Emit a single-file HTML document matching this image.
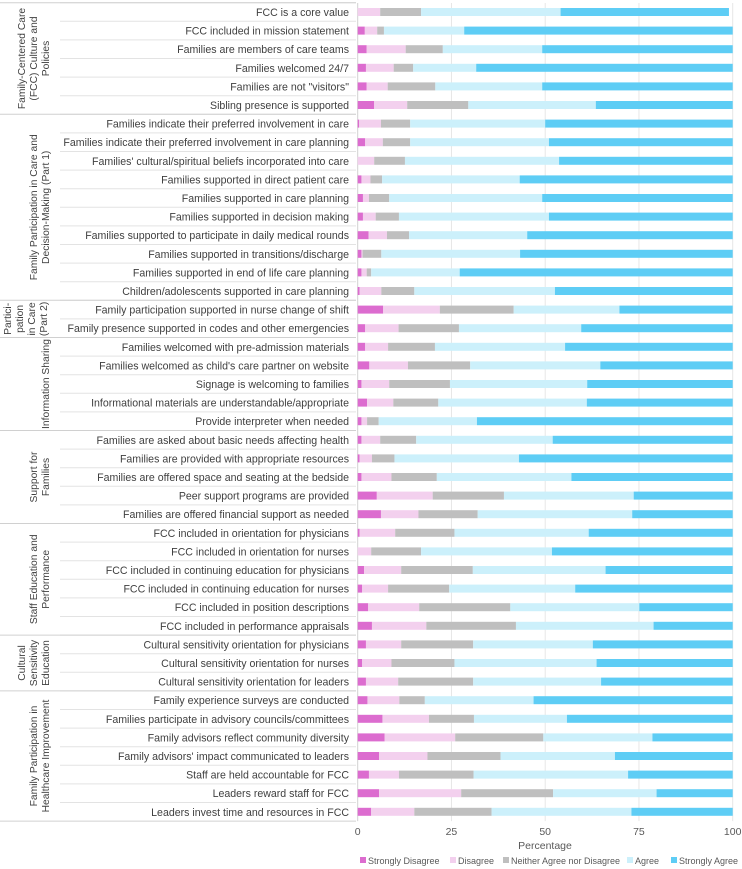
<!DOCTYPE html>
<html><head><meta charset="utf-8"><style>
html,body{margin:0;padding:0;background:#fff}
svg{display:block;font-family:"Liberation Sans",sans-serif}
</style></head><body>
<svg id="chart" width="742" height="869"></svg>
<script>
const categories=["FCC is a core value","FCC included in mission statement","Families are members of care teams","Families welcomed 24/7","Families are not \"visitors\"","Sibling presence is supported","Families indicate their preferred involvement in care","Families indicate their preferred involvement in care planning","Families' cultural/spiritual beliefs incorporated into care","Families supported in direct patient care","Families supported in care planning","Families supported in decision making","Families supported to participate in daily medical rounds","Families supported in transitions/discharge","Families supported in end of life care planning","Children/adolescents supported in care planning","Family participation supported in nurse change of shift","Family presence supported in codes and other emergencies","Families welcomed with pre-admission materials","Families welcomed as child's care partner on website","Signage is welcoming to families","Informational materials are understandable/appropriate","Provide interpreter when needed","Families are asked about basic needs affecting health","Families are provided with appropriate resources","Families are offered space and seating at the bedside","Peer support programs are provided","Families are offered financial support as needed","FCC included in orientation for physicians","FCC included in orientation for nurses","FCC included in continuing education for physicians","FCC included in continuing education for nurses","FCC included in position descriptions","FCC included in performance appraisals","Cultural sensitivity orientation for physicians","Cultural sensitivity orientation for nurses","Cultural sensitivity orientation for leaders","Family experience surveys are conducted","Families participate in advisory councils/committees","Family advisors reflect community diversity","Family advisors' impact communicated to leaders","Staff are held accountable for FCC","Leaders reward staff for FCC","Leaders invest time and resources in FCC"];
const stronglyDisagree=[0,1.9,2.4,2.2,2.4,4.4,0.4,2.0,0,1.0,1.4,1.4,2.9,1.0,1.0,0.5,6.8,2.0,2.0,3.1,1.0,2.5,1.0,1.0,0.5,1.0,5.1,6.2,0.5,0,1.7,1.2,2.8,3.8,2.2,1.2,2.2,2.6,6.6,7.2,5.7,3.0,5.7,3.6];
const disagree=[6.0,3.3,10.4,7.4,5.6,8.8,5.8,4.7,4.4,2.4,1.6,3.4,4.9,0.3,1.4,5.8,15.1,8.9,6.1,10.3,7.4,7.0,1.5,5.0,3.3,8.0,14.9,10.0,9.5,3.6,9.9,6.9,13.6,14.5,9.4,7.8,8.6,8.5,12.4,18.8,12.9,8.0,21.9,11.5];
const neither=[10.9,1.8,9.9,5.2,12.7,16.3,7.8,7.3,8.2,3.1,5.4,6.2,5.9,5.0,1.2,8.8,19.7,16.1,12.5,16.6,16.2,12.0,3.1,9.6,6.0,12.1,19.0,15.8,15.8,13.3,19.1,16.3,24.3,23.9,19.2,16.8,20.0,6.8,12.0,23.5,19.5,19.9,24.5,20.6];
const agree=[37.2,21.4,26.5,16.8,28.5,34.0,36.0,37.0,41.1,36.7,40.8,40.0,31.5,37.0,23.6,37.5,28.2,32.6,34.7,34.7,36.6,39.6,26.2,36.4,33.2,35.9,34.6,41.2,35.8,34.9,35.4,33.6,34.4,36.7,31.9,37.9,34.1,29.0,24.8,29.1,30.5,41.2,27.6,37.3];
const stronglyAgree=[44.9,71.6,50.8,68.4,50.8,36.5,50.0,49.0,46.3,56.8,50.8,49.0,54.8,56.7,72.8,47.4,30.2,40.4,44.7,35.3,38.8,38.9,68.2,48.0,57.0,43.0,26.4,26.8,38.4,48.2,33.9,42.0,24.9,21.1,37.3,36.3,35.1,53.1,44.2,21.4,31.4,27.9,20.3,27.0];
const seriesNames=["Strongly Disagree","Disagree","Neither Agree nor Disagree","Agree","Strongly Agree"];
const ticks=[0,25,50,75,100];
const groups=[{s:0,e:5,lines:["Family-Centered Care","(FCC) Culture and","Policies"]},{s:6,e:15,lines:["Family Participation in Care and","Decision-Making (Part 1)"]},{s:16,e:17,lines:["Partici-","pation","in Care","(Part 2)"]},{s:18,e:22,lines:["Information Sharing"]},{s:23,e:27,lines:["Support for","Families"]},{s:28,e:33,lines:["Staff Education and","Performance"]},{s:34,e:36,lines:["Cultural","Sensitivity","Education"]},{s:37,e:43,lines:["Family Participation in","Healthcare Improvement"]}];

const colors=["#dc6ccf","#f3d0ee","#bfbfbf","#ccf0fb","#5ecdf5"];
const series=[stronglyDisagree,disagree,neither,agree,stronglyAgree];
const svg=document.getElementById('chart');
const NS="http://www.w3.org/2000/svg";
const X0=357.7,X1=732.7,Y0=12,STEP=18.6,BH=8;
const xs=v=>X0+(X1-X0)*v/100;
const ys=i=>Y0+STEP*i;
function mk(t,a,p){const e=document.createElementNS(NS,t);for(const k in a)e.setAttribute(k,a[k]);(p||svg).appendChild(e);return e;}
const bottom=ys(categories.length-1)+9.3;
ticks.forEach((t,i)=>{
 const g=mk('line',{x1:xs(t),x2:xs(t),y1:3,y2:bottom,stroke:i==0?'#d0d0d0':'#e6e6e6','stroke-width':1});
 
 
 const tl=mk('text',{x:xs(t),y:835,'text-anchor':'middle','font-size':10.5,fill:'#595959'});
 tl.textContent=t;
 
 
});
categories.forEach((c,i)=>{
 const yb=ys(i)-9.3;
 const ln=mk('line',{x1:60,x2:356,y1:yb,y2:yb,stroke:'#e3e3e3','stroke-width':1});
 
 
 const t=mk('text',{x:349,y:ys(i)+4,'text-anchor':'end','font-size':10.6,fill:'#404040'});
 t.textContent=c;
 
 
 let acc=0;
 series.forEach((s,k)=>{
  const v=s[i];
  const r=mk('rect',{x:xs(acc),y:ys(i)-BH/2,width:Math.max(0,xs(acc+v)-xs(acc)),height:BH,fill:colors[k]});
  
  
  acc+=v;
 });
});
groups.forEach((g,gi)=>{
 const yt=ys(g.s)-9.3,yb=ys(g.e)+9.3;
 const l=mk('line',{x1:0,x2:356,y1:yt,y2:yt,stroke:'#d0d0d0','stroke-width':1});
 
 
 const cy=(yt+yb)/2;
 const n=g.lines.length;
 g.lines.forEach((ln,j)=>{
  const cx=gi==2?(11+j*12):(49-(n-1-j)*12);
  const t=mk('text',{x:cx,y:cy,'text-anchor':'middle','font-size':10.3,fill:'#404040',transform:`rotate(-90 ${cx} ${cy})`});
  t.textContent=ln;
  
  
 });
});
const lb=mk('line',{x1:0,x2:356,y1:bottom,y2:bottom,stroke:'#d0d0d0','stroke-width':1});


const xt=mk('text',{x:545,y:849,'text-anchor':'middle','font-size':10.5,fill:'#595959'});
xt.textContent='Percentage';


const lx=[360,450,503,627,671];
seriesNames.forEach((n,k)=>{
 const r=mk('rect',{x:lx[k],y:857,width:6,height:6,fill:colors[k]});
 
 
 const t=mk('text',{x:lx[k]+8,y:864,'font-size':9,fill:'#595959'});
 t.textContent=n;
 
 
});
</script>
</body></html>
